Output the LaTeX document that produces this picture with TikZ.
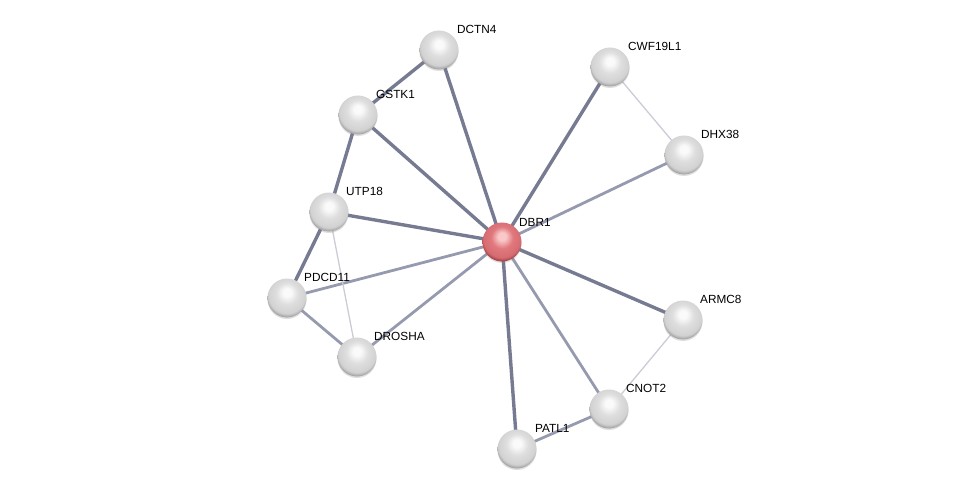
\documentclass[tikz,border=0pt]{standalone}
\usepackage{fontspec}
\setmainfont{Liberation Sans}
\usepackage{tikz}
\usetikzlibrary{shadows,positioning,backgrounds}
\definecolor{edgedark}{RGB}{118,123,146}
\definecolor{edgemid}{RGB}{150,154,174}
\definecolor{edgelight}{RGB}{202,204,214}
\definecolor{ballhi}{RGB}{250,250,250}
\definecolor{ballmid}{RGB}{222,222,222}
\definecolor{ballrim}{RGB}{160,160,160}
\definecolor{redhi}{RGB}{250,200,200}
\definecolor{redmid}{RGB}{225,120,125}
\definecolor{redrim}{RGB}{165,60,65}
\pgfdeclareradialshading{grayball}{\pgfpoint{0bp}{8bp}}{%
  color(0bp)=(ballhi); color(5bp)=(ballhi); color(14bp)=(ballmid);
  color(24bp)=(ballmid!80!ballrim); color(28bp)=(ballrim); color(50bp)=(ballrim)}
\pgfdeclareradialshading{redball}{\pgfpoint{0bp}{8bp}}{%
  color(0bp)=(redhi); color(5bp)=(redhi); color(14bp)=(redmid);
  color(24bp)=(redmid!80!redrim); color(28bp)=(redrim); color(50bp)=(redrim)}
\tikzset{
  protein/.style={circle,minimum size=39pt,inner sep=0pt,shading=grayball,
    drop shadow={opacity=0.25,shadow xshift=0pt,shadow yshift=-1.5pt}},
  query/.style={protein,shading=redball},
  plabel/.style={font=\fontsize{11.8}{13}\selectfont,anchor=south west,inner sep=1pt},
  strong/.style={line width=3.4pt,color=edgedark},
  medium/.style={line width=2.8pt,color=edgemid},
  weak/.style={line width=1.3pt,color=edgelight}
}
\begin{document}
\begin{tikzpicture}[x=1pt,y=-1pt]
  \useasboundingbox (0,0) rectangle (975,495);

  % proteins
  \node[query]   (dbr)  at (502,242) {};
  \node[protein] (dctn) at (439,50)  {};
  \node[protein] (gstk) at (358,115) {};
  \node[protein] (utp)  at (329,212) {};
  \node[protein] (pdcd) at (287,298) {};
  \node[protein] (dro)  at (357,357) {};
  \node[protein] (cwf)  at (610,67)  {};
  \node[protein] (dhx)  at (684,155) {};
  \node[protein] (armc) at (683,320) {};
  \node[protein] (cnot) at (609,409) {};
  \node[protein] (patl) at (517,449) {};

  % edges behind the balls
  \begin{scope}[on background layer]
    \foreach \a/\b in {dbr/dctn,dbr/gstk,dbr/utp,dbr/cwf,dbr/armc,dbr/patl,
                       dctn/gstk,gstk/utp,utp/pdcd}
      \draw[strong] (\a.center) -- (\b.center);
    \foreach \a/\b in {dbr/pdcd,dbr/dro,dbr/dhx,dbr/cnot,pdcd/dro,cnot/patl}
      \draw[medium] (\a.center) -- (\b.center);
    \foreach \a/\b in {utp/dro,cwf/dhx,armc/cnot}
      \draw[weak] (\a.center) -- (\b.center);
  \end{scope}

  % labels
  \node[plabel] at (518,228) {DBR1};
  \node[plabel] at (456,35)  {DCTN4};
  \node[plabel] at (375,100) {GSTK1};
  \node[plabel] at (345,197) {UTP18};
  \node[plabel] at (303,283) {PDCD11};
  \node[plabel] at (373,342) {DROSHA};
  \node[plabel] at (627,52)  {CWF19L1};
  \node[plabel] at (700,140) {DHX38};
  \node[plabel] at (699,305) {ARMC8};
  \node[plabel] at (625,394) {CNOT2};
  \node[plabel] at (534,434) {PATL1};
\end{tikzpicture}
\end{document}
